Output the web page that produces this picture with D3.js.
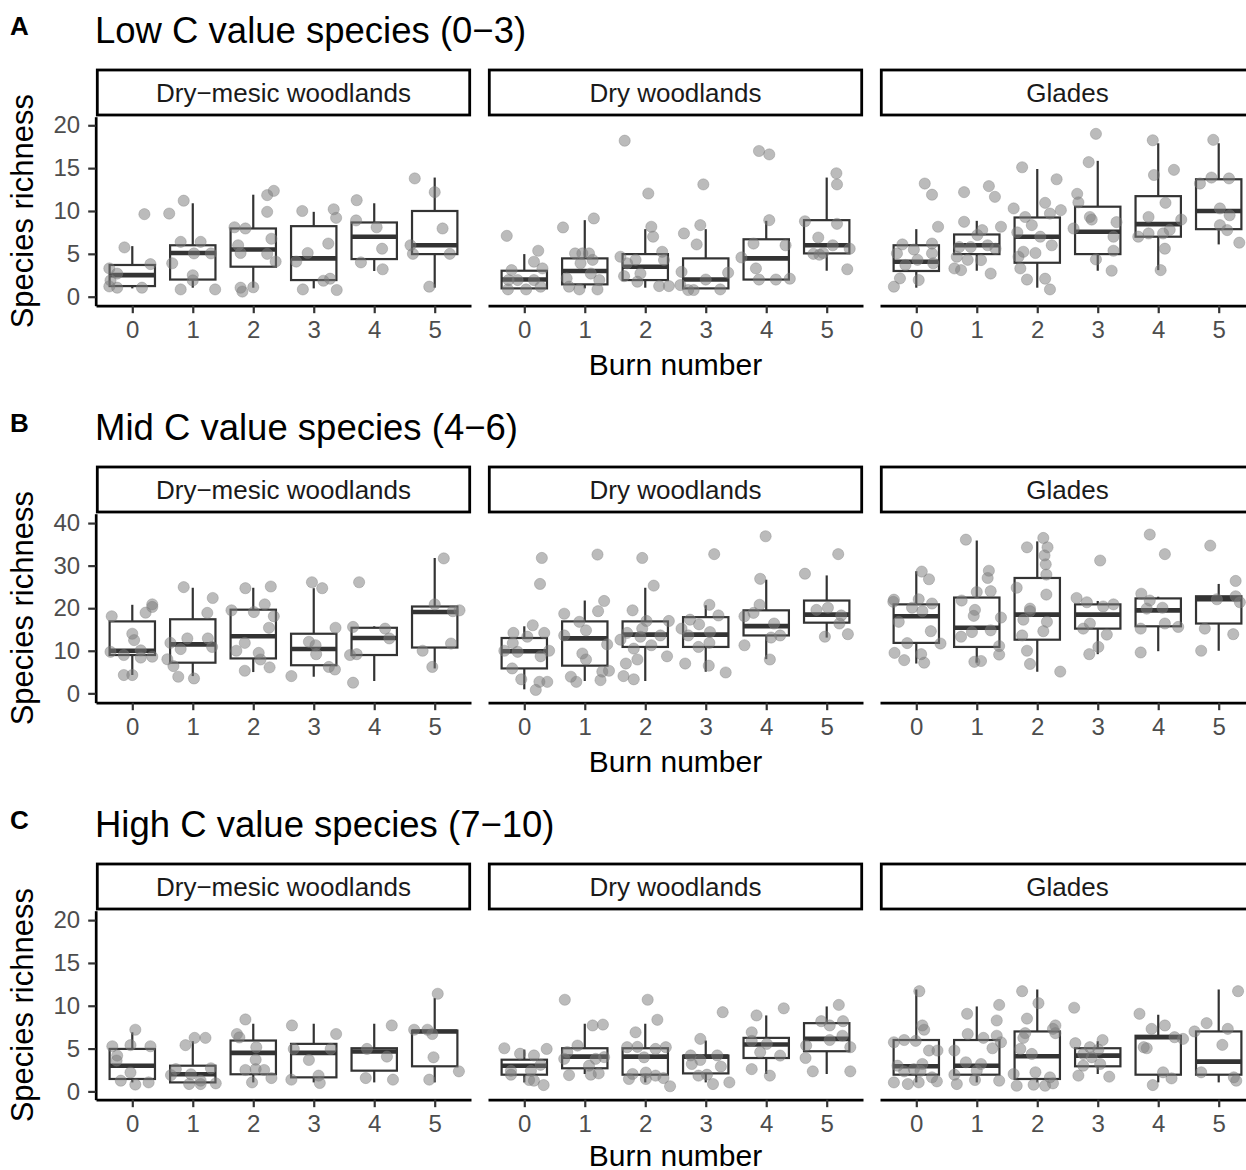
<!DOCTYPE html>
<html><head><meta charset="utf-8">
<script src="https://cdn.jsdelivr.net/npm/d3@7"></script>
<style>body{margin:0;background:#fff}svg{display:block}text{font-family:"Liberation Sans",Arial,Helvetica,sans-serif}</style>
</head><body><svg id="c" width="1246" height="1170"></svg>
<script>
// ---------- data ----------
const facets = ["Dry\u2212mesic woodlands", "Dry woodlands", "Glades"];
const burns = [0, 1, 2, 3, 4, 5];
const rowLetters = ["A", "B", "C"];
const rowTitles = ["Low C value species (0\u22123)", "Mid C value species (4\u22126)", "High C value species (7\u221210)"];
const yTicksLow = [0, 5, 10, 15, 20];
const yTicksMid = [0, 10, 20, 30, 40];
const yTicksHigh = [0, 5, 10, 15, 20];
const yDomainLow = [-1.05, 21.0];
const yDomainMid = [-2.2, 42.2];
const yDomainHigh = [-0.97, 21.1];

// box stats per burn: [lower whisker, q1, median, q3, upper whisker]
const lowDryMesicBox = [[0.97,1.24,2.52,3.7,5.9],[1.05,2.0,5.1,6.0,10.9],[1.05,3.5,5.5,7.96,11.9],[0.97,1.94,4.47,8.23,9.9],[3.0,4.39,7.0,8.66,10.9],[1.05,4.97,6.0,10.0,13.9]];
const lowDryBox = [[0.97,0.97,2.0,3.03,4.97],[0.97,1.44,3.0,4.47,8.93],[1.05,1.94,3.5,4.97,7.88],[0.97,0.97,2.0,4.47,7.88],[2.0,2.0,4.47,6.7,8.85],[3.03,5.05,6.0,8.93,13.9]];
const lowGladesBox = [[1.05,3.0,4.08,6.0,7.88],[3.03,4.97,6.0,7.26,8.85],[1.05,3.96,7.0,9.24,14.9],[3.03,4.97,7.57,10.5,15.85],[3.1,7.0,8.47,11.73,17.9],[6.1,7.88,10.0,13.7,17.9]];
const midDryMesicBox = [[4.3,9.0,10.0,16.9,20.8],[4.05,7.2,11.5,17.4,24.8],[5.0,8.2,13.4,19.65,24.8],[3.9,6.6,10.4,14.0,24.7],[2.9,9.0,13.0,15.4,15.75],[5.85,10.76,19.1,20.4,31.8]];
const midDryBox = [[0.94,5.85,9.9,13.0,15.75],[2.9,6.5,12.9,16.9,21.8],[2.9,10.9,13.8,16.9,24.8],[5.07,10.9,13.8,17.9,20.7],[8.03,13.6,15.8,19.5,26.7],[13.1,16.6,18.5,21.8,27.7]];
const midGladesBox = [[7.0,11.85,18.1,20.9,28.7],[7.2,10.9,15.4,22.5,35.9],[5.07,12.6,18.5,27.1,35.7],[9.2,15.2,18.5,20.9,21.7],[9.9,15.75,19.5,22.3,22.7],[10.0,16.4,22.1,22.8,25.7]];
const highDryMesicBox = [[1.05,1.45,3.0,4.96,6.9],[1.05,1.05,2.0,3.0,5.86],[1.05,2.0,4.5,5.94,7.9],[1.05,1.64,4.5,5.55,7.9],[1.05,2.42,4.65,5.04,7.9],[1.05,2.93,7.0,7.1,10.9]];
const highDryBox = [[1.05,1.95,3.0,3.7,4.88],[2.03,2.7,4.06,5.04,7.9],[1.05,1.95,4.06,5.04,7.9],[1.05,2.1,4.06,4.18,5.94],[2.03,3.9,5.47,6.25,8.87],[2.03,4.69,6.13,7.97,9.92]];
const highGladesBox = [[1.05,1.95,2.93,6.0,11.9],[1.05,1.95,3.0,6.0,9.92],[1.05,1.45,4.1,7.0,11.9],[2.03,2.93,4.18,5.04,5.86],[1.05,1.95,6.33,6.5,8.95],[1.05,1.95,3.48,7.0,11.9]];

// jittered points per burn: [jitter offset (category units), species richness]
const lowDryMesicPts = [
 [[-0.13,5.75],[0.2,9.63],[-0.38,3.3],[-0.25,2.7],[-0.36,1.9],[-0.38,1.2],[-0.25,1.05],[0.16,1.05],[0.3,3.8]],
 [[-0.39,9.7],[-0.15,11.2],[-0.2,6.4],[0.13,6.4],[-0.34,3.9],[0.02,5.05],[0.3,5.05],[0,2.5],[0,1.9],[-0.2,0.85],[0.37,0.85]],
 [[-0.31,8.1],[-0.13,7.96],[-0.25,6.0],[-0.21,5.1],[0.23,5.0],[0.3,6.76],[0.23,9.9],[0.23,11.85],[0.34,12.35],[0.37,4.1],[-0.21,1.05],[-0.18,0.6],[0,1.1]],
 [[-0.19,10.0],[0.33,10.2],[0.37,9.2],[-0.29,4.1],[-0.1,5.1],[0.24,6.2],[0.16,1.86],[0.27,2.1],[-0.18,0.85],[0.38,0.78]],
 [[-0.29,11.26],[-0.3,8.9],[0.04,8.1],[0.13,5.6],[-0.22,4.0],[0.14,3.2]],
 [[-0.33,13.8],[0,12.2],[0.13,7.96],[-0.4,6.0],[-0.36,5.0],[0.25,5.0],[-0.09,1.17]]];
const lowDryPts = [
 [[-0.29,7.1],[0.23,5.36],[0.16,4.08],[0.3,3.3],[-0.21,3.1],[-0.26,1.94],[-0.27,0.85],[0.03,0.85],[-0.11,1.94],[0.16,1.94],[0.27,1.17]],
 [[-0.36,8.08],[0.15,9.13],[-0.16,5.05],[-0.04,5.05],[0.07,5.05],[-0.3,2.14],[0.1,2.7],[-0.07,3.9],[-0.26,1.17],[-0.09,0.85],[0.21,0.85],[0.24,1.94],[0.13,4.3]],
 [[-0.34,18.2],[0.05,12.04],[0.1,8.16],[0.13,7.0],[-0.41,4.66],[0.28,5.24],[0.31,4.27],[-0.3,3.9],[-0.16,4.3],[-0.35,2.4],[-0.13,1.75],[0.23,1.24],[0.39,1.24],[-0.08,2.7]],
 [[-0.04,13.1],[-0.36,7.38],[-0.09,8.35],[-0.15,6.1],[0.37,2.8],[-0.4,2.9],[-0.42,1.36],[-0.29,0.78],[-0.2,0.78],[0.24,0.85],[0,2.0]],
 [[-0.12,17.0],[0.05,16.6],[0.05,8.93],[-0.21,6.2],[0.32,6.0],[-0.41,4.58],[-0.17,3.3],[-0.12,2.0],[0.16,2.0],[0.39,2.1]],
 [[0.16,14.4],[0.17,13.1],[-0.36,8.8],[0.17,8.5],[-0.14,6.9],[0.38,5.6],[-0.22,5.0],[-0.12,4.9],[-0.06,5.1],[0.34,3.2],[0.1,6.0]]];
const lowGladesPts = [
 [[0.14,13.2],[0.26,11.9],[0.36,8.16],[-0.23,6.1],[-0.04,5.5],[0.26,6.2],[-0.32,5.05],[-0.18,3.7],[0.26,5.05],[0.28,3.9],[0.02,4.3],[-0.27,2.14],[0.04,1.94],[-0.37,1.17]],
 [[-0.21,12.2],[0.2,12.9],[0.3,11.65],[-0.21,8.74],[0.4,8.16],[0.09,7.77],[0.01,7.2],[-0.29,5.8],[-0.1,5.8],[0.18,6.0],[0.31,5.6],[-0.33,4.66],[-0.15,4.3],[-0.37,3.3],[-0.26,3.1],[0.07,4.27],[0.23,2.7]],
 [[-0.25,15.1],[0.32,13.7],[-0.39,10.3],[0.13,10.95],[0.39,10.1],[0.21,9.7],[-0.2,9.3],[-0.09,8.35],[-0.33,7.5],[0.24,6.0],[-0.23,5.24],[-0.03,5.1],[-0.31,4.66],[-0.28,3.3],[-0.17,2.0],[0.13,2.1],[0.21,0.85],[0.05,7.0]],
 [[-0.03,19.0],[-0.15,15.7],[-0.34,12.0],[-0.32,11.0],[-0.13,9.3],[-0.4,7.96],[-0.1,9.0],[0.31,8.7],[0.26,7.0],[0.26,5.36],[-0.03,4.35],[0.23,3.03]],
 [[-0.09,18.25],[0.26,14.8],[-0.07,14.2],[0.12,10.95],[-0.16,9.3],[0.38,9.0],[-0.33,7.0],[-0.16,7.38],[0.08,7.38],[0.11,5.6],[0.04,3.1],[0.19,7.8]],
 [[-0.09,18.3],[-0.31,13.2],[-0.12,13.9],[0.17,13.8],[0.02,10.3],[0.18,9.5],[0.02,8.35],[0.14,7.77],[0.34,6.3]]];
const midDryMesicPts = [
 [[-0.34,18.1],[0.33,20.9],[0.33,20.3],[0.22,18.95],[0,14.0],[0.03,12.5],[-0.36,9.75],[-0.14,9.0],[0.14,10.1],[0.14,8.4],[0.33,8.6],[-0.14,4.3],[0,4.3]],
 [[-0.15,24.95],[0.33,22.4],[0.24,18.9],[-0.37,11.85],[-0.09,12.9],[0.25,12.9],[-0.2,10.4],[0.32,10.9],[-0.42,8.0],[-0.32,6.4],[-0.24,3.9],[0.02,3.5]],
 [[-0.13,24.7],[0.29,25.1],[-0.36,19.5],[0.01,19.1],[0.19,20.9],[0.34,18.1],[0.26,15.4],[-0.14,11.85],[-0.28,10.0],[0.09,9.5],[0.12,7.95],[0.27,6.1],[-0.14,5.3]],
 [[-0.03,26.1],[0.14,24.7],[0.36,15.4],[-0.08,12.1],[0.03,11.3],[0.04,9.2],[0.25,6.2],[0.35,5.6],[-0.37,4.05]],
 [[-0.25,26.1],[-0.35,15.6],[0.18,15.2],[0.25,12.9],[-0.4,9.0],[-0.29,9.2],[-0.35,2.5]],
 [[0.15,31.7],[0,20.9],[0.41,19.5],[0.3,19.3],[-0.2,10.0],[0.27,11.7],[-0.04,6.2]]];
const midDryPts = [
 [[0.29,31.8],[0.26,25.7],[0.14,16.0],[-0.18,14.2],[0.33,14.2],[0.05,13.3],[-0.19,11.8],[-0.33,10.0],[-0.11,9.75],[0.41,10.0],[0.27,8.7],[-0.2,5.85],[-0.05,3.3],[0.25,2.7],[0.38,2.7],[0.19,0.8]],
 [[0.21,32.6],[0.32,21.7],[0.22,19.3],[-0.34,18.7],[-0.09,16.8],[0.02,14.8],[-0.34,13.6],[0.37,11.5],[-0.04,9.35],[0.02,7.95],[0.29,5.1],[0.4,5.3],[-0.23,3.9],[-0.14,2.7],[0.26,3.1]],
 [[-0.05,31.8],[0.14,25.3],[-0.21,19.5],[0.02,17.0],[0.39,17.0],[-0.3,14.2],[-0.05,15.2],[-0.08,13.3],[-0.41,12.6],[0.25,13.6],[0.1,11.3],[-0.19,10.5],[0.36,8.7],[-0.13,7.95],[-0.32,7.0],[-0.36,4.05],[-0.19,3.3]],
 [[0.14,32.7],[0.06,20.8],[0.21,18.3],[-0.26,17.3],[-0.11,16.2],[-0.4,15.2],[-0.29,13.6],[0.07,14.4],[-0.12,10.9],[0.06,11.85],[0.05,6.5],[-0.34,7.0],[0.33,4.9]],
 [[-0.01,36.9],[-0.1,26.9],[-0.11,20.8],[-0.36,18.1],[-0.21,18.9],[0.13,16.4],[0.23,13.6],[0.08,13.1],[-0.36,11.3],[0.06,7.95]],
 [[0.19,32.7],[-0.36,28.1],[-0.17,19.6],[0.02,20.1],[0.24,18.3],[0.21,16.4],[0.35,13.9],[-0.03,13.3]]];
const midGladesPts = [
 [[0.09,28.6],[0.21,26.8],[-0.37,22.0],[-0.38,21.5],[-0.29,16.8],[0.04,22.1],[0.26,21.1],[-0.07,20.1],[0.1,19.3],[0.24,14.6],[0.4,11.7],[-0.15,11.8],[-0.36,9.5],[-0.2,7.8],[0.08,9.2],[0.13,7.2]],
 [[-0.18,36.1],[0.2,28.8],[0.18,27.1],[0,23.8],[0.23,24.0],[-0.25,21.8],[-0.03,19.6],[-0.05,18.2],[0.4,17.8],[0.23,14.8],[-0.08,14.4],[-0.26,13.3],[0.37,11.1],[0.37,9.1],[-0.04,7.4],[0.07,7.6]],
 [[0.1,36.5],[0.17,34.3],[-0.17,34.3],[0.12,32.4],[0.14,30.3],[0.15,27.9],[-0.34,24.8],[0.15,23.2],[-0.12,19.9],[-0.12,19.3],[-0.23,17.3],[0.16,16.8],[0.1,14.6],[-0.25,13.6],[-0.17,10.0],[-0.12,6.9],[0.38,5.1]],
 [[0.04,31.2],[-0.35,22.4],[-0.18,21.4],[0.26,20.9],[0.09,20.4],[-0.24,15.2],[-0.13,16.4],[0.15,13.8],[0.01,10.9],[-0.14,9.2]],
 [[-0.14,37.3],[0.11,32.7],[-0.28,23.4],[-0.14,21.8],[-0.19,19.9],[0.07,20.1],[0.11,16.4],[0.33,15.6],[-0.29,15.2],[-0.29,9.6]],
 [[-0.14,34.7],[0.28,26.4],[0.28,22.8],[-0.03,22.1],[0.35,21.4],[-0.23,15.2],[0.24,13.9],[-0.29,10.0]]];
const highDryMesicPts = [
 [[0.05,7.2],[-0.33,5.27],[-0.03,5.4],[0.3,5.27],[-0.25,4.18],[-0.26,3.6],[-0.03,2.2],[-0.19,1.25],[0.27,1.05],[0.05,0.8]],
 [[0.03,6.25],[0.21,6.25],[-0.12,5.4],[-0.28,2.6],[0.3,2.7],[-0.03,2.0],[0.13,1.25],[-0.06,0.86],[0.13,0.86],[0.38,0.94],[-0.36,1.9]],
 [[-0.13,8.4],[-0.27,6.7],[-0.23,6.3],[0.05,5.16],[0.04,3.7],[-0.13,2.5],[0.04,2.6],[0.18,2.5],[0.3,1.56],[-0.02,1.05]],
 [[-0.36,7.7],[0.37,6.7],[-0.33,4.96],[-0.08,3.67],[0.08,1.84],[-0.37,1.37],[0.1,0.98],[0.28,4.96]],
 [[0.29,7.7],[-0.12,4.96],[0.21,4.06],[-0.14,1.56],[0.31,1.37]],
 [[0.05,11.4],[-0.34,7.2],[-0.12,7.2],[-0.04,6.7],[-0.02,3.98],[0.4,2.34],[-0.09,1.37]]];
const highDryPts = [
 [[-0.33,5.04],[0.37,4.96],[-0.07,4.4],[0.16,4.2],[0.27,3.1],[-0.22,1.95],[-0.22,2.4],[0.08,1.33],[0.16,1.25],[0.32,0.74],[0.11,2.4]],
 [[-0.33,10.7],[0.13,7.7],[0.3,7.8],[-0.12,5.35],[-0.34,3.8],[-0.29,4.6],[0.18,3.8],[0.32,4.0],[0.07,3.0],[-0.26,1.9],[0.1,1.95],[0.23,2.1]],
 [[0.04,10.7],[0.2,8.36],[-0.16,6.9],[-0.3,5.16],[-0.13,5.2],[0.17,4.96],[0.34,5.16],[-0.02,3.98],[-0.21,2.03],[0.01,2.2],[0.17,1.84],[-0.27,1.45],[0.01,1.45],[0.3,1.56],[0.41,0.6]],
 [[0.28,9.25],[-0.09,6.13],[-0.25,4.2],[-0.09,3.67],[0.19,4.2],[-0.23,3.2],[0.25,2.9],[-0.12,1.84],[0.02,1.95],[0.12,0.86],[0.39,1.05]],
 [[0.29,9.7],[-0.16,8.87],[-0.24,6.9],[-0.24,5.9],[0.01,5.55],[-0.1,4.57],[0.23,4.18],[-0.24,2.6],[0.06,1.84]],
 [[0.2,10.1],[-0.09,8.2],[0.27,8.2],[0.05,7.7],[0.26,6.5],[-0.34,5.35],[0.05,6.0],[0.39,5.16],[-0.35,3.9],[-0.23,2.34],[0.39,2.34]]];
const highGladesPts = [
 [[0.05,11.7],[0.1,7.7],[0.13,7.2],[-0.37,5.74],[-0.2,6.0],[-0.01,5.9],[0.21,4.77],[0.35,4.77],[-0.31,3.0],[0.1,3.2],[-0.2,2.34],[-0.04,2.6],[0.07,2.4],[0.26,1.64],[-0.37,1.05],[-0.14,0.86],[0.04,1.05],[0.34,1.17]],
 [[0.37,10.1],[-0.16,9.06],[0.33,8.28],[-0.15,6.7],[0.11,6.25],[0.33,6.5],[0.26,5.04],[0.4,5.74],[-0.37,4.77],[-0.18,3.4],[0.07,3.2],[0,2.42],[-0.37,1.95],[-0.33,0.86],[-0.03,1.33],[0.37,1.25]],
 [[-0.25,11.7],[0.02,10.3],[-0.17,8.5],[0.3,7.7],[-0.2,6.8],[-0.23,6.25],[0.3,6.8],[0.26,7.3],[-0.28,4.96],[-0.09,4.37],[-0.39,2.03],[-0.03,2.23],[0.21,1.64],[-0.34,0.66],[-0.06,0.78],[0.13,0.66],[0.26,0.94]],
 [[-0.39,9.77],[0.08,6.0],[-0.37,5.63],[-0.13,5.16],[0.01,4.88],[-0.24,4.37],[-0.1,3.98],[-0.24,3.0],[0.04,3.2],[-0.32,1.84],[0.19,1.72]],
 [[-0.31,9.06],[-0.11,7.3],[0.11,7.7],[0.27,6.33],[0.41,6.13],[-0.19,5.04],[-0.24,5.16],[0.08,2.23],[0.22,1.52],[-0.09,0.74]],
 [[0.32,11.7],[-0.2,7.97],[-0.4,7.0],[0.15,7.3],[0.06,5.43],[-0.29,2.23],[0.25,1.64],[0.29,1.25]]];

// ---------- assembly ----------
const rows = [
  {letter: rowLetters[0], title: rowTitles[0], ticks: yTicksLow, domain: yDomainLow,
   box: [lowDryMesicBox, lowDryBox, lowGladesBox], pts: [lowDryMesicPts, lowDryPts, lowGladesPts]},
  {letter: rowLetters[1], title: rowTitles[1], ticks: yTicksMid, domain: yDomainMid,
   box: [midDryMesicBox, midDryBox, midGladesBox], pts: [midDryMesicPts, midDryPts, midGladesPts]},
  {letter: rowLetters[2], title: rowTitles[2], ticks: yTicksHigh, domain: yDomainHigh,
   box: [highDryMesicBox, highDryBox, highGladesBox], pts: [highDryMesicPts, highDryPts, highGladesPts]}
];

const svg = d3.select("#c");
svg.append("rect").attr("width", 1246).attr("height", 1170).attr("fill", "#fff");

const panelLeft0 = 96, panelStep = 392, panelW = 375;
const rowTop0 = 116.7, rowStep = 397, plotH = 189;
const ink = "#333333";

rows.forEach((row, r) => {
  const top = rowTop0 + r * rowStep, bottom = top + plotH;
  const y = d3.scaleLinear().domain(row.domain).range([bottom, top]);

  svg.append("text").attr("x", 10).attr("y", top - 82).attr("font-weight", "bold")
    .attr("font-size", 26).attr("fill", "#000").text(row.letter);
  svg.append("text").attr("x", 95).attr("y", top - 73.5)
    .attr("font-size", 36.5).attr("fill", "#000").text(row.title);
  svg.append("text").attr("transform", `translate(33,${(top + bottom) / 2}) rotate(-90)`)
    .attr("text-anchor", "middle").attr("font-size", 31).attr("fill", "#000").text("Species richness");
  svg.append("text").attr("x", 675.5).attr("y", Math.min(bottom + 69.3, 1166)).attr("text-anchor", "middle")
    .attr("font-size", 30).attr("fill", "#000").text("Burn number");

  facets.forEach((f, i) => {
    const left = panelLeft0 + i * panelStep;
    const x = d3.scalePoint().domain(burns).range([left, left + panelW]).padding(0.6);
    const step = x.step();
    const bw = 0.75 * step;

    // strip
    svg.append("rect").attr("x", left + 1.3).attr("y", top - 46.7)
      .attr("width", panelW - 2.6).attr("height", 45).attr("fill", "#fff")
      .attr("stroke", "#000").attr("stroke-width", 2.8);
    svg.append("text").attr("x", left + panelW / 2).attr("y", top - 15)
      .attr("text-anchor", "middle").attr("font-size", 26).attr("fill", "#1a1a1a").text(f);

    // boxes
    const g = svg.append("g");
    const stats = row.box[i];
    burns.forEach((b, k) => {
      const [lo, q1, md, q3, hi] = stats[k];
      const cx = x(b);
      g.append("line").attr("x1", cx).attr("x2", cx).attr("y1", y(hi)).attr("y2", y(q3))
        .attr("stroke", ink).attr("stroke-width", 2.2);
      g.append("line").attr("x1", cx).attr("x2", cx).attr("y1", y(q1)).attr("y2", y(lo))
        .attr("stroke", ink).attr("stroke-width", 2.2);
      g.append("rect").attr("x", cx - bw / 2).attr("width", bw)
        .attr("y", y(q3)).attr("height", Math.max(0, y(q1) - y(q3)))
        .attr("fill", "#fff").attr("stroke", ink).attr("stroke-width", 2.2);
      g.append("line").attr("x1", cx - bw / 2).attr("x2", cx + bw / 2)
        .attr("y1", y(md)).attr("y2", y(md)).attr("stroke", ink).attr("stroke-width", 4.6);
    });

    // points
    const pts = [];
    row.pts[i].forEach((arr, k) => arr.forEach(p => pts.push({b: burns[k], j: p[0], v: p[1]})));
    svg.append("g").selectAll("circle").data(pts).join("circle")
      .attr("cx", d => x(d.b) + d.j * step).attr("cy", d => y(d.v)).attr("r", 5.6)
      .attr("fill", "#7c7c7c").attr("fill-opacity", 0.52)
      .attr("stroke", "#7c7c7c").attr("stroke-opacity", 0.45).attr("stroke-width", 0.8);

    // x axis
    const ax = svg.append("g").attr("transform", `translate(0,${bottom})`)
      .call(d3.axisBottom(x).tickSizeInner(7.5).tickSizeOuter(0).tickPadding(8));
    ax.select(".domain").attr("stroke", "#000").attr("stroke-width", 2.7);
    ax.selectAll(".tick line").attr("stroke", ink).attr("stroke-width", 2.2);
    ax.selectAll(".tick text").attr("font-size", 24).attr("fill", "#4d4d4d")
      .attr("font-family", '"Liberation Sans", Arial, sans-serif');

    // y axis (first panel only)
    if (i === 0) {
      const ay = svg.append("g").attr("transform", `translate(${left - 0.3},0)`)
        .call(d3.axisLeft(y).tickValues(row.ticks).tickSizeInner(7.5).tickSizeOuter(0).tickPadding(8));
      ay.select(".domain").attr("stroke", "#000").attr("stroke-width", 2.7);
      ay.selectAll(".tick line").attr("stroke", ink).attr("stroke-width", 2.2);
      ay.selectAll(".tick text").attr("font-size", 24).attr("fill", "#4d4d4d")
        .attr("font-family", '"Liberation Sans", Arial, sans-serif');
    }
  });
});
</script></body></html>
